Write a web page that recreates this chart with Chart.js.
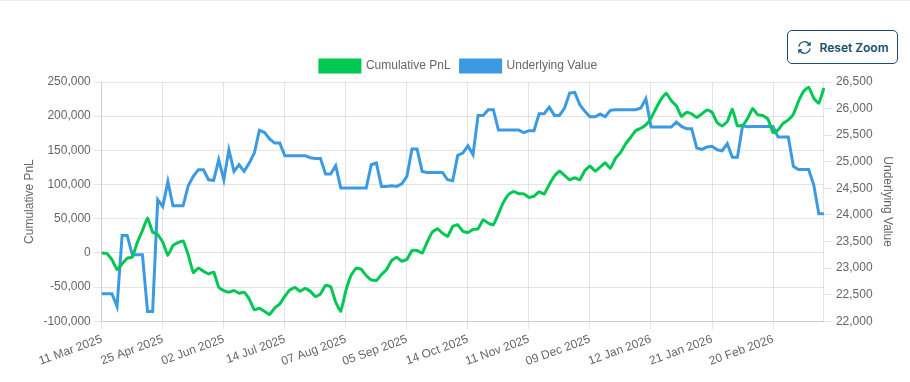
<!DOCTYPE html>
<html>
<head>
<meta charset="utf-8">
<title>Cumulative PnL</title>
<script src="https://cdn.jsdelivr.net/npm/chart.js@4"></script>
<style>
    html, body { margin: 0; padding: 0; background: #fff; overflow: hidden; }
    #topLine { position: absolute; left: 0; top: 0; width: 910px; height: 1px; background: #e9e9e9; }
    #resetZoom {
        position: absolute; left: 787px; top: 30px; width: 111px; height: 34px;
        box-sizing: border-box; display: flex; align-items: center; justify-content: center; gap: 8px;
        background: #fff; border: 1px solid #164e6e; border-radius: 5px; color: #164e6e;
        font: 600 12px Inter, sans-serif; padding: 0;
    }
    #chartBox { position: absolute; left: 0; top: 50px; width: 910px; height: 332px; }
</style>
</head>
<body>
<div id="topLine"></div>
<button id="resetZoom">
    <svg width="15" height="15" viewBox="0 0 16 16" fill="none" stroke="#164e6e" stroke-width="1.3">
        <path d="M2 7a6 6 0 0 1 10.5-3L14 5.5M14 2v3.5h-3.5"/>
        <path d="M14 9a6 6 0 0 1-10.5 3L2 10.5M2 14v-3.5h3.5"/>
    </svg>
    Reset Zoom
</button>
<div id="chartBox"><canvas id="pnlChart" width="910" height="332"></canvas></div>
<script>
const tickLabels = ['11 Mar 2025', '25 Apr 2025', '02 Jun 2025', '14 Jul 2025', '07 Aug 2025', '05 Sep 2025',
    '14 Oct 2025', '11 Nov 2025', '09 Dec 2025', '12 Jan 2026', '21 Jan 2026', '20 Feb 2026'];

const pnlValues = [
    0, -1000, -9800, -24400, -16100, -7800, -6300, 15600, 32700, 51300,
    30300, 26900, 15600, -3900, 10700, 15100, 17500, -3000, -28800, -22000,
    -27000, -30800, -28000, -50300, -55200, -57600, -55200, -59100, -57600, -67400,
    -83500, -81000, -85500, -90300, -80600, -74700, -63500, -54200, -50800, -56200,
    -51800, -56200, -64000, -60100, -47900, -49300, -72300, -85500, -55200, -33200,
    -22500, -23900, -33200, -39600, -40500, -31700, -24400, -11200, -6300, -12200,
    -9800, 3400, 3400, -500, 16100, 30300, 35200, 28800, 23900, 38600,
    41000, 31700, 29800, 34200, 35200, 48300, 43500, 41000, 57100, 74200,
    85500, 89800, 86400, 86400, 81100, 83000, 89400, 85900, 100100, 112300,
    119600, 113300, 106900, 109900, 106900, 120600, 127000, 119600, 125500, 131800,
    123500, 138200, 146500, 159300, 169000, 178900, 182300, 187200, 197000, 211700,
    224900, 233700, 222500, 215100, 199400, 205800, 203400, 198000, 203400, 209200,
    205800, 190600, 185700, 192100, 210200, 185700, 186700, 196500, 211200, 201900,
    200900, 196000, 175900, 179800, 189600, 194500, 202900, 221500, 236200, 242600,
    226400, 219000, 241100
];

const underlyingValues = [
    22515, 22515, 22515, 22276, 23613, 23613, 23249, 23249, 23249, 22182,
    22182, 24284, 24159, 24630, 24171, 24171, 24171, 24548, 24724, 24850,
    24850, 24661, 24648, 25038, 24661, 25226, 24818, 24943, 24818, 24975,
    25163, 25590, 25552, 25427, 25351, 25351, 25113, 25113, 25113, 25113,
    25113, 25075, 25063, 25063, 24768, 24768, 24925, 24504, 24504, 24504,
    24504, 24504, 24504, 24943, 24975, 24535, 24535, 24548, 24535, 24586,
    24724, 25238, 25238, 24818, 24799, 24799, 24799, 24799, 24661, 24642,
    25119, 25163, 25301, 25132, 25872, 25872, 25979, 25979, 25596, 25596,
    25596, 25596, 25596, 25546, 25584, 25584, 25904, 25904, 26029, 25872,
    25872, 26010, 26293, 26305, 26073, 25948, 25847, 25847, 25897, 25847,
    25966, 25979, 25979, 25979, 25979, 25979, 26010, 26186, 25653, 25653,
    25653, 25653, 25653, 25747, 25665, 25621, 25621, 25257, 25232, 25276,
    25289, 25226, 25207, 25339, 25082, 25082, 25678, 25659, 25665, 25665,
    25665, 25665, 25665, 25464, 25464, 25464, 24912, 24855, 24855, 24855,
    24567, 24021, 24021
];

const pointsPerTick = 12;

const ctx = document.getElementById('pnlChart');
new Chart(ctx, {
    type: 'line',
    data: {
        labels: pnlValues.map((v, i) => tickLabels[i / pointsPerTick] || ''),
        datasets: [
            {
                label: 'Cumulative PnL',
                data: pnlValues,
                borderColor: '#00c853',
                backgroundColor: '#00c853',
                borderWidth: 3,
                pointRadius: 0,
                tension: 0.1,
                yAxisID: 'y'
            },
            {
                label: 'Underlying Value',
                data: underlyingValues,
                borderColor: '#3b9ae1',
                backgroundColor: '#3b9ae1',
                borderWidth: 3,
                pointRadius: 0,
                tension: 0,
                yAxisID: 'y1'
            }
        ]
    },
    options: {
        responsive: false,
        animation: false,
        layout: { padding: { left: 18, right: 11, top: 0, bottom: 10 } },
        plugins: {
            legend: {
                position: 'top',
                labels: { color: '#666', font: { family: 'Liberation Sans', size: 12 } }
            },
            tooltip: { enabled: false }
        },
        scales: {
            x: {
                grid: { color: 'rgba(0,0,0,0.1)' },
                ticks: {
                    autoSkip: false,
                    minRotation: 20,
                    maxRotation: 20,
                    color: '#666',
                    font: { family: 'Liberation Sans', size: 12 },
                    callback: (v, i) => (i % pointsPerTick === 0 ? tickLabels[i / pointsPerTick] : null)
                }
            },
            y: {
                position: 'left',
                min: -100000,
                max: 250000,
                ticks: {
                    stepSize: 50000,
                    color: '#666',
                    font: { family: 'Liberation Sans', size: 12 }
                },
                title: {
                    display: true,
                    text: 'Cumulative PnL',
                    color: '#666',
                    font: { family: 'Liberation Sans', size: 12 }
                }
            },
            y1: {
                position: 'right',
                min: 22000,
                max: 26500,
                grid: { drawOnChartArea: false },
                ticks: {
                    stepSize: 500,
                    padding: 4,
                    color: '#666',
                    font: { family: 'Liberation Sans', size: 12 }
                },
                title: {
                    display: true,
                    text: 'Underlying Value',
                    color: '#666',
                    font: { family: 'Liberation Sans', size: 12 }
                }
            }
        }
    }
});
</script>
</body>
</html>
